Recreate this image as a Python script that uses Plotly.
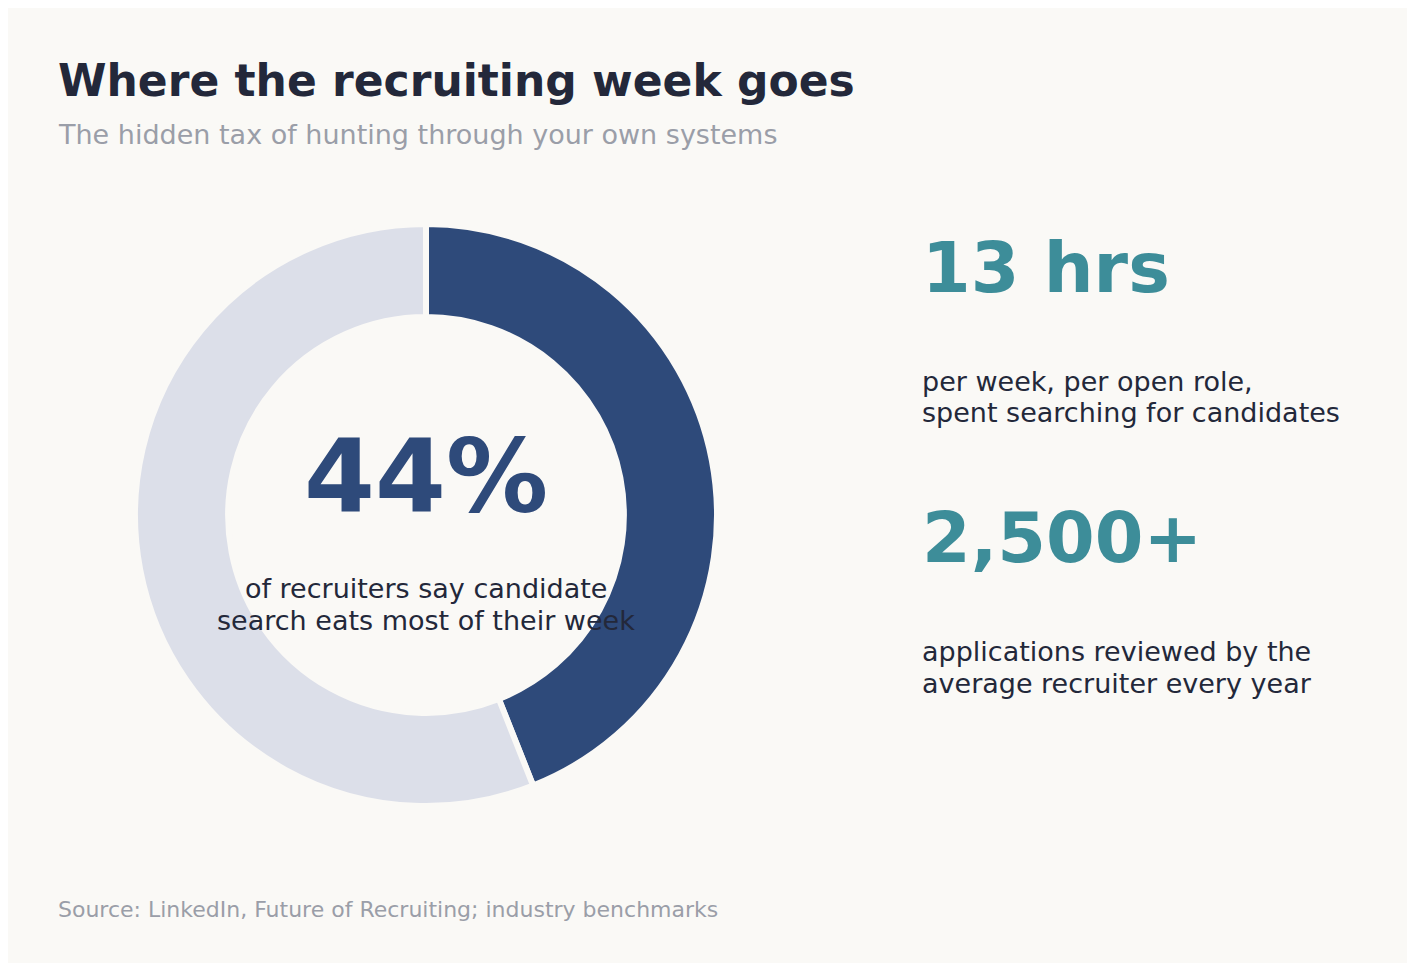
import plotly.graph_objects as go

W, H = 1415, 963

# data
slice_labels = ["Candidate search", "Everything else"]
slice_values = [44, 56]
slice_colors = ["#2e4a7a", "#dcdfe9"]

title = "Where the recruiting week goes"
subtitle = "The hidden tax of hunting through your own systems"
center_value = "44%"
center_caption = ["of recruiters say candidate", "search eats most of their week"]
stat_values = ["13 hrs", "2,500+"]
stat_captions = [["per week, per open role,", "spent searching for candidates"],
                 ["applications reviewed by the", "average recruiter every year"]]
source = "Source: LinkedIn, Future of Recruiting; industry benchmarks"

BG = "#faf9f6"
DARK = "#23283a"
GREY = "#9a9ea8"
TEAL = "#3d8d99"
FONT = "DejaVu Sans"

fig = go.Figure(go.Pie(
    labels=slice_labels, values=slice_values, hole=0.68, sort=False,
    direction="clockwise", rotation=0,
    marker=dict(colors=slice_colors, line=dict(color=BG, width=6)),
    textinfo="none", hoverinfo="label+percent",
    domain=dict(x=[127 / W, 709 / W], y=[1 - 798 / H, 1 - 216 / H]),
))


def txt(x, y, s, size, color, bold=False, xanchor="left"):
    fig.add_annotation(
        x=x / W, y=1 - y / H, xref="paper", yref="paper", text=s,
        showarrow=False, xanchor=xanchor, yanchor="middle",
        font=dict(family=FONT, size=size, color=color,
                  weight="bold" if bold else "normal"))


txt(48, 72, title, 44, DARK, bold=True)
txt(48, 127, subtitle, 27, GREY)
txt(418, 468, center_value, 102, "#2e4a7a", bold=True, xanchor="center")
txt(418, 580, center_caption[0], 27, DARK, xanchor="center")
txt(418, 612, center_caption[1], 27, DARK, xanchor="center")

for i, (v, cap) in enumerate(zip(stat_values, stat_captions)):
    y0 = 260 + i * 270
    txt(912, y0, v, 70, TEAL, bold=True)
    txt(912, y0 + 113, cap[0], 27, DARK)
    txt(912, y0 + 145, cap[1], 27, DARK)

txt(48, 901, source, 22, GREY)

fig.update_layout(
    width=W, height=H, margin=dict(l=0, r=0, t=0, b=0),
    paper_bgcolor=BG, plot_bgcolor=BG, showlegend=False,
    font=dict(family=FONT),
)

fig.write_html("out.html")
